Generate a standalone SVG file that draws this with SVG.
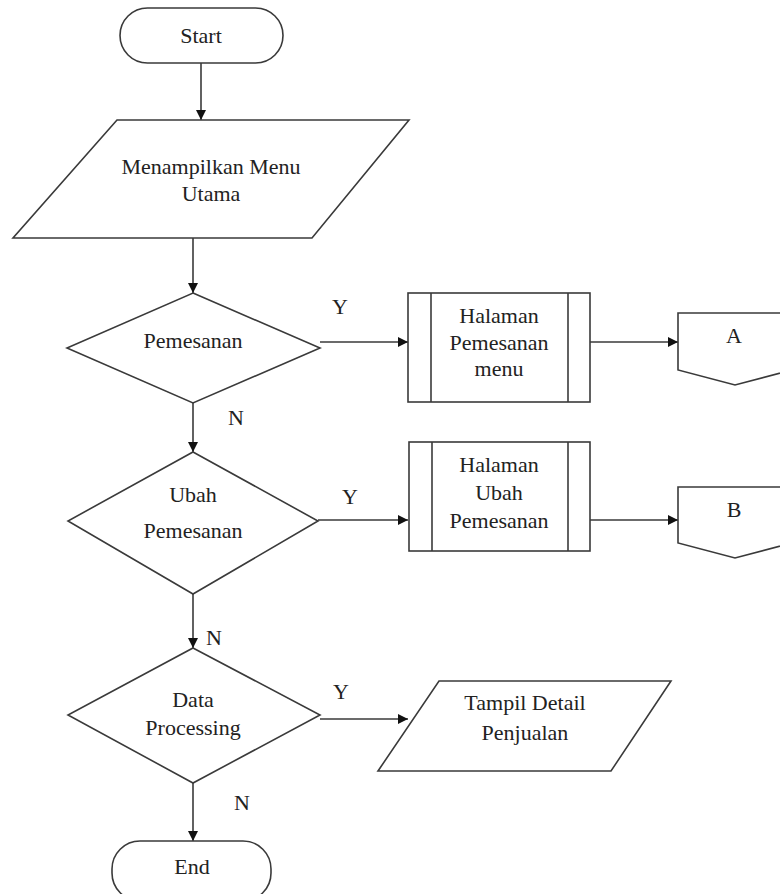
<svg xmlns="http://www.w3.org/2000/svg" width="780" height="894" viewBox="0 0 780 894">
<style>
.s{fill:#fff;stroke:#3a3a3a;stroke-width:1.6}
.c{fill:none;stroke:#3a3a3a;stroke-width:1.6}
.t{font-family:"Liberation Serif","Times New Roman",serif;font-size:22px;fill:#222;text-anchor:middle}
</style>
<defs>
<marker id="ah" viewBox="0 0 10 10" refX="10" refY="5" markerWidth="10" markerHeight="10" markerUnits="userSpaceOnUse" orient="auto">
<path d="M0,0 L10,5 L0,10 z" fill="#111"/>
</marker>
</defs>
<rect width="780" height="894" fill="#fff"/>
<g id="connectors">
<line class="c" x1="201" y1="63" x2="201" y2="120" marker-end="url(#ah)"/>
<line class="c" x1="193" y1="238" x2="193" y2="293" marker-end="url(#ah)"/>
<line class="c" x1="320" y1="342" x2="408" y2="342" marker-end="url(#ah)"/>
<line class="c" x1="590" y1="342" x2="678" y2="342" marker-end="url(#ah)"/>
<line class="c" x1="193" y1="403" x2="193" y2="452" marker-end="url(#ah)"/>
<line class="c" x1="318" y1="520" x2="408" y2="520" marker-end="url(#ah)"/>
<line class="c" x1="590" y1="520" x2="678" y2="520" marker-end="url(#ah)"/>
<line class="c" x1="193" y1="594" x2="193" y2="648" marker-end="url(#ah)"/>
<line class="c" x1="320" y1="719" x2="408" y2="719" marker-end="url(#ah)"/>
<line class="c" x1="193" y1="783" x2="193" y2="841" marker-end="url(#ah)"/>
<text class="t" x="340" y="314">Y</text>
<text class="t" x="236" y="425">N</text>
<text class="t" x="350" y="504">Y</text>
<text class="t" x="214" y="645">N</text>
<text class="t" x="341" y="699">Y</text>
<text class="t" x="242" y="810">N</text>
</g>
<g id="start">
<rect class="s" x="120" y="8" width="163" height="55" rx="27.5"/>
<text class="t" x="201" y="43">Start</text>
</g>
<g id="menu-utama">
<polygon class="s" points="117,120 409,120 312,238 13,238"/>
<text class="t" x="211" y="174">Menampilkan Menu</text>
<text class="t" x="211" y="201">Utama</text>
</g>
<g id="pemesanan">
<polygon class="s" points="193,293 320,348 193,403 67,348"/>
<text class="t" x="193" y="348">Pemesanan</text>
</g>
<g id="halaman-pemesanan">
<rect class="s" x="408" y="293" width="182" height="109"/>
<line class="c" x1="431" y1="293" x2="431" y2="402"/>
<line class="c" x1="568" y1="293" x2="568" y2="402"/>
<text class="t" x="499" y="323">Halaman</text>
<text class="t" x="499" y="350">Pemesanan</text>
<text class="t" x="499" y="376">menu</text>
</g>
<g id="connector-a">
<polygon class="s" points="678,313 792,313 792,370 735,385 678,370"/>
<text class="t" x="734" y="343">A</text>
</g>
<g id="ubah-pemesanan">
<polygon class="s" points="193,452 318,521 193,594 68,521"/>
<text class="t" x="193" y="502">Ubah</text>
<text class="t" x="193" y="538">Pemesanan</text>
</g>
<g id="halaman-ubah">
<rect class="s" x="409" y="442" width="181" height="109"/>
<line class="c" x1="432" y1="442" x2="432" y2="551"/>
<line class="c" x1="568" y1="442" x2="568" y2="551"/>
<text class="t" x="499" y="472">Halaman</text>
<text class="t" x="499" y="500">Ubah</text>
<text class="t" x="499" y="528">Pemesanan</text>
</g>
<g id="connector-b">
<polygon class="s" points="678,487 792,487 792,543 735,558 678,543"/>
<text class="t" x="734" y="517">B</text>
</g>
<g id="data-processing">
<polygon class="s" points="193,648 320,715 193,783 68,715"/>
<text class="t" x="193" y="707">Data</text>
<text class="t" x="193" y="735">Processing</text>
</g>
<g id="tampil-detail">
<polygon class="s" points="439,681 671,681 611,771 378,771"/>
<text class="t" x="525" y="710">Tampil Detail</text>
<text class="t" x="525" y="740">Penjualan</text>
</g>
<g id="end">
<rect class="s" x="112" y="841" width="159" height="60" rx="28"/>
<text class="t" x="192" y="874">End</text>
</g>
</svg>
